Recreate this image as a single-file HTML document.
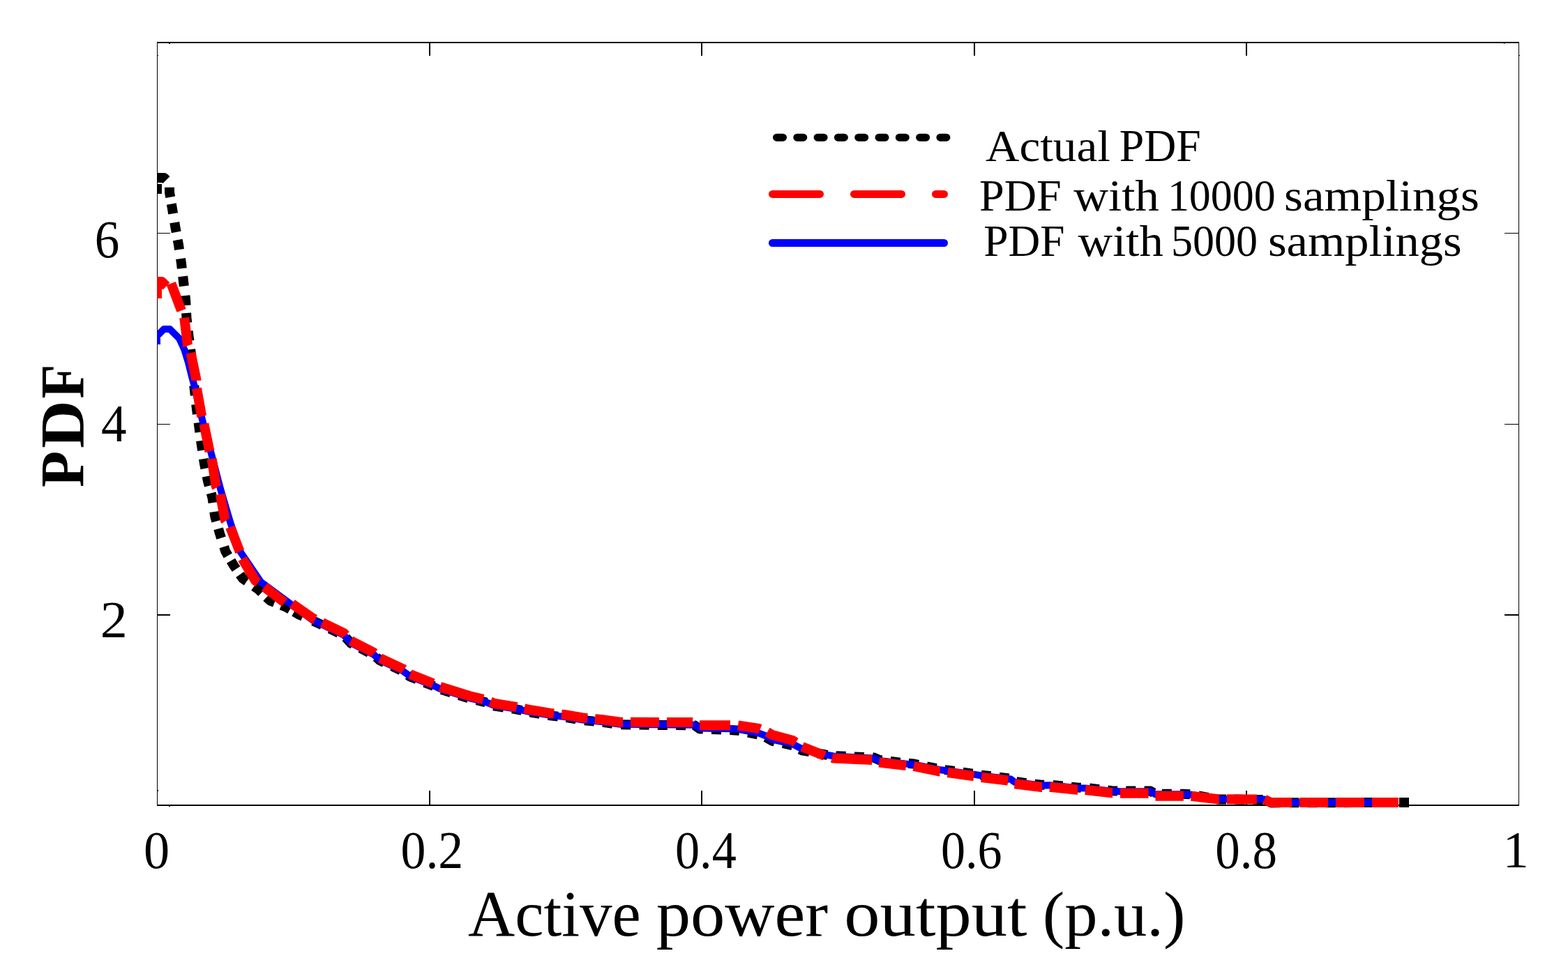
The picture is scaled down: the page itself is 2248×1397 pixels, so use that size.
<!DOCTYPE html>
<html><head><meta charset="utf-8"><title>PDF of active power output</title>
<style>html,body{margin:0;padding:0;background:#fff;overflow:hidden;} svg{display:block;}</style></head>
<body>
<svg width="2248" height="1397" viewBox="0 0 2248 1397" font-family="'Liberation Serif', serif" fill="#000">
<rect width="2248" height="1397" fill="#fff"/>
<defs><clipPath id="ax"><rect x="225" y="0" width="1953" height="1397"/></clipPath></defs>
<g shape-rendering="crispEdges">
<rect x="225" y="60" width="1953" height="2"/>
<rect x="225" y="1154" width="1953" height="2"/>
<rect x="225" y="60" width="1" height="1096"/>
<rect x="2177" y="60" width="1" height="1096"/>
<rect x="615" y="1134" width="2" height="20"/>
<rect x="615" y="62" width="2" height="18"/>
<rect x="1005" y="1134" width="2" height="20"/>
<rect x="1005" y="62" width="2" height="18"/>
<rect x="1396" y="1134" width="2" height="20"/>
<rect x="1396" y="62" width="2" height="18"/>
<rect x="1786" y="1134" width="2" height="20"/>
<rect x="1786" y="62" width="2" height="18"/>
<rect x="226" y="334" width="18" height="1"/>
<rect x="2157" y="334" width="20" height="1"/>
<rect x="226" y="608" width="18" height="1"/>
<rect x="2157" y="608" width="20" height="1"/>
<rect x="226" y="881" width="18" height="2"/>
<rect x="2157" y="881" width="20" height="2"/>
<rect x="242" y="62" width="2" height="1"/>
<rect x="2156" y="62" width="1" height="1"/>
<rect x="226" y="79" width="1" height="1"/>
<rect x="2178" y="79" width="1" height="1"/>
<rect x="242" y="1156" width="2" height="1"/>
<rect x="226" y="1133" width="1" height="2"/>
</g>
<g clip-path="url(#ax)" fill="none" stroke-linejoin="round">
<path d="M225.0,278.0 L225.0,264.0 M225.0,262.0 L225.0,255.0 L235.4,255.0 L238.5,258.1 M243.0,268.8 L243.0,275.8 L244.2,282.7 M245.8,292.5 L247.0,299.4 L248.1,306.3 M250.3,319.1 L251.4,326.0 L252.7,332.9 M254.7,344.1 L256.0,351.0 L257.0,357.9 M259.0,371.1 L260.0,378.0 L260.8,385.0 M262.2,396.4 L263.0,403.4 L263.8,410.4 M265.4,424.0 L266.2,431.0 L266.6,438.0 M267.1,449.0 L267.5,456.0 L268.3,463.0 M269.7,475.0 L270.5,482.0 L271.4,488.9 M273.1,501.1 L274.0,508.0 L274.7,515.0 M275.8,527.0 L276.5,534.0 L277.2,541.0 M278.3,553.0 L279.0,560.0 L279.8,567.0 M281.2,580.0 L282.0,587.0 L282.9,593.9 M284.6,606.1 L285.5,613.0 L286.4,619.9 M288.1,632.1 L289.0,639.0 L290.1,645.9 M291.9,658.1 L293.0,665.0 L294.4,671.9 M296.6,683.1 L298.0,690.0 L299.8,696.8 M302.7,707.2 L304.5,714.0 L305.5,720.9 M307.3,734.1 L308.3,741.0 L310.2,747.7 M313.1,758.3 L315.0,765.0 L317.1,771.7 M321.2,784.1 L323.3,790.8 L326.8,796.9 M331.1,804.2 L334.6,810.3 L338.6,816.1 M344.0,824.0 L348.0,829.8 L353.8,833.8 M364.2,841.0 L370.0,845.0 L375.1,849.8 M382.1,856.6 L387.2,861.4 L393.7,864.0 M403.3,867.9 L409.8,870.5 L415.8,874.0 M421.8,877.5 L427.8,881.0 L434.2,883.9 M2006.0,1151.0 L2020.0,1151.0 M1979.7,1151.1 L1993.7,1151.0 M1953.4,1151.1 L1967.4,1151.1 M1927.1,1151.2 L1941.1,1151.1 M1900.8,1151.2 L1914.8,1151.2 M1874.5,1151.3 L1888.5,1151.2 M1848.2,1151.3 L1862.2,1151.3 M1821.9,1151.3 L1822.0,1151.4 L1835.9,1151.3 M1796.6,1146.9 L1800.0,1146.9 L1810.6,1146.9 M1770.3,1146.6 L1784.3,1146.8 M1744.1,1146.1 L1746.0,1146.4 L1758.0,1146.5 M1718.2,1141.3 L1732.0,1143.8 M1692.1,1138.8 L1695.7,1138.8 L1706.1,1139.3 M1665.8,1138.8 L1679.8,1138.8 M1640.6,1134.6 L1649.4,1134.6 L1653.9,1137.2 M1614.3,1134.6 L1628.3,1134.6 M1588.0,1133.5 L1594.0,1134.2 L1602.0,1134.5 M1561.9,1130.5 L1575.8,1132.1 M1535.7,1128.7 L1544.0,1129.5 L1549.7,1129.7 M1509.5,1126.0 L1523.5,1127.4 M1483.3,1124.6 L1493.0,1125.8 L1497.3,1125.7 M1457.2,1121.3 L1471.1,1123.1 M1432.5,1114.7 L1446.4,1116.4 M1406.4,1111.6 L1407.0,1111.7 L1420.3,1113.3 M1380.4,1107.7 L1394.3,1109.6 M1354.4,1104.1 L1358.6,1104.6 L1368.2,1106.0 M1328.5,1099.4 L1342.2,1102.2 M1302.6,1095.0 L1310.0,1095.6 L1316.5,1096.9 M1276.5,1091.9 L1290.4,1093.6 M1251.1,1086.4 L1252.6,1086.5 L1260.4,1090.0 L1264.3,1090.5 M1224.8,1085.4 L1238.8,1085.9 M1198.5,1084.2 L1212.5,1084.8 M1172.5,1080.5 L1183.5,1082.5 L1186.3,1082.9 M1147.0,1074.7 L1150.0,1076.3 L1160.4,1078.2 M1122.4,1066.0 L1136.0,1069.1 M1097.8,1057.4 L1098.0,1057.5 L1107.0,1062.6 L1110.4,1063.3 M1072.5,1050.6 L1086.3,1053.3 M1046.5,1047.1 L1058.0,1047.8 L1060.4,1048.2 M1020.2,1046.1 L1034.2,1046.6 M995.5,1040.4 L996.0,1040.4 L1003.0,1045.4 L1007.9,1045.6 M969.2,1040.1 L983.2,1040.3 M942.9,1039.9 L956.9,1040.0 M916.6,1039.6 L930.6,1039.7 M890.3,1039.3 L904.3,1039.5 M864.3,1035.8 L878.2,1037.8 M838.1,1033.2 L852.1,1034.6 M812.2,1029.0 L826.0,1031.4 M786.1,1025.9 L789.0,1026.4 L800.0,1027.6 M760.1,1021.5 L762.3,1022.0 L773.9,1023.9 M734.3,1016.4 L740.0,1017.3 L748.1,1019.0 M708.4,1012.3 L709.0,1012.5 L722.2,1014.5 M683.4,1004.2 L695.6,1007.1 L697.0,1007.7 M658.1,997.0 L671.5,1001.2 M633.0,989.1 L646.4,993.3 M608.9,978.9 L621.9,984.1 M584.9,968.3 L588.0,970.5 L597.5,974.3 M562.1,955.5 L574.7,961.4 M539.4,942.5 L545.0,947.5 L550.9,950.3 M516.7,929.5 L529.1,936.0 M495.7,914.4 L503.0,922.5 L505.8,923.9 M472.9,901.8 L485.5,907.9 M449.1,890.6 L461.8,896.4" stroke="#000" stroke-width="14"/>
<path d="M225.0,494.0 L225.0,482.0 L235.0,472.0 L243.5,472.0 L257.0,485.5 L261.0,494.0 L264.5,502.0 L270.0,520.0 L275.0,540.0 L278.0,551.0 L290.0,602.0 L303.0,651.0 L316.0,701.0 L330.0,748.6 L345.0,792.0 L373.7,834.4 L414.3,864.4 L448.9,890.0 L462.0,896.0 L493.0,911.0 L503.0,922.0 L536.0,939.0 L545.0,947.0 L577.0,962.0 L588.0,970.0 L623.0,984.0 L631.0,988.0 L673.4,1001.3 L695.6,1006.6 L709.0,1012.0 L740.0,1016.8 L762.3,1021.5 L789.0,1025.9 L809.0,1028.0 L835.6,1032.5 L862.0,1035.0 L889.0,1038.8 L996.0,1039.8 L1003.0,1044.4 L1046.0,1045.2 L1058.0,1045.8 L1088.0,1051.6 L1098.0,1055.5 L1107.0,1060.6 L1136.5,1067.2 L1150.0,1074.3 L1183.5,1082.4 L1195.0,1084.5 L1222.7,1086.1 L1252.6,1087.5 L1260.4,1091.0 L1301.7,1095.9 L1310.0,1096.5 L1346.5,1104.0 L1358.6,1105.5 L1397.8,1110.9 L1407.0,1112.5 L1449.0,1117.5 L1454.7,1121.8 L1493.0,1126.5 L1505.0,1126.2 L1544.0,1130.2 L1556.0,1130.5 L1594.0,1134.8 L1606.0,1135.2 L1649.4,1135.2 L1656.5,1139.3 L1695.7,1139.3 L1707.8,1139.7 L1746.0,1146.0 L1800.0,1146.5 L1812.8,1146.5 L1822.0,1151.0 L2005.0,1151.0" stroke="#0000ff" stroke-width="10"/>
<path d="M225.0,428.0 L225.0,404.0 L232.0,404.0 L238.5,410.5 M245.3,406.6 L259.7,444.6 L260.0,445.4 M264.2,455.6 L269.0,494.7 L269.4,495.8 M273.5,506.0 L281.3,544.0 L281.4,546.0 M282.0,557.0 L289.0,596.0 L289.4,597.4 M292.4,608.0 L300.2,646.0 L300.6,647.4 M303.6,658.0 L309.6,697.0 L310.8,699.2 M315.8,709.0 L322.6,745.6 L323.6,747.0 M330.0,756.0 L343.6,790.8 L343.7,791.0 M347.4,801.3 L366.2,832.9 L370.0,835.6 M379.0,841.9 L408.0,864.2 M418.8,866.0 L448.9,887.0 L452.0,888.4 M462.0,893.0 L493.0,908.0 L495.6,910.9 M503.0,919.0 L536.0,936.0 L536.8,936.7 M545.0,944.0 L577.0,959.0 L579.1,960.5 M588.0,967.0 L621.1,980.2 M631.0,985.0 L673.4,998.3 L692.8,1002.9 M703.1,1006.6 L709.0,1009.0 L740.0,1013.8 L740.9,1014.0 M751.6,1016.3 L762.3,1018.5 L789.0,1022.9 L794.1,1023.4 M805.0,1024.6 L809.0,1025.0 L835.6,1029.5 L842.1,1030.1 M853.0,1031.2 L862.0,1032.0 L889.0,1035.8 L893.0,1035.8 M904.0,1035.8 L945.0,1035.9 M956.0,1035.9 L993.2,1036.0 M1003.0,1040.3 L1046.0,1040.3 L1047.0,1040.3 M1058.0,1040.5 L1088.0,1045.0 L1090.0,1045.7 M1100.1,1049.8 L1107.0,1054.0 L1136.5,1062.0 L1140.8,1064.9 M1150.0,1071.0 L1182.2,1084.1 M1192.8,1086.9 L1195.0,1087.5 L1222.7,1088.8 L1250.2,1089.9 M1260.4,1093.5 L1299.0,1098.1 M1310.0,1099.0 L1346.5,1106.5 L1347.7,1106.6 M1358.6,1108.0 L1396.2,1113.2 M1407.0,1115.0 L1445.2,1119.5 M1454.7,1124.3 L1493.0,1129.0 L1494.0,1129.0 M1505.0,1128.7 L1544.0,1132.7 L1545.0,1132.7 M1556.0,1133.0 L1594.0,1137.3 L1595.0,1137.3 M1606.0,1137.7 L1646.6,1137.7 M1656.5,1141.8 L1695.7,1141.8 L1696.8,1141.8 M1707.8,1141.8 L1746.0,1146.2 L1748.0,1146.2 M1759.0,1146.3 L1800.0,1146.5 L1801.8,1146.5 M1812.8,1146.5 L1822.0,1151.0 L1852.0,1151.0 M1863.0,1151.0 L1904.0,1151.0 M1915.0,1151.0 L1956.0,1151.0 M1967.0,1151.0 L2005.0,1151.0" stroke="#ff0000" stroke-width="14"/>
</g>
<g fill="none" stroke-linecap="round">
<path d="M1113.5,197.2 H1357" stroke="#000" stroke-width="11" stroke-dasharray="9 20.3"/>
<path d="M1107.5,278.4 H1353.5" stroke="#ff0000" stroke-width="11" stroke-dasharray="68 49"/>
<path d="M1107.5,348.5 H1353.5" stroke="#0000ff" stroke-width="11"/>
</g>
<text transform="translate(205.93,1244.80) scale(0.9906,1.0143)" font-size="75">0</text>
<text transform="translate(574.53,1245.00) scale(0.9575,1.0204)" font-size="75">0.2</text>
<text transform="translate(967.99,1244.90) scale(0.9367,1.0184)" font-size="75">0.4</text>
<text transform="translate(1349.00,1245.00) scale(0.9341,1.0204)" font-size="75">0.6</text>
<text transform="translate(1742.36,1245.00) scale(0.9466,1.0204)" font-size="75">0.8</text>
<text transform="translate(2154.71,1244.00) scale(0.9846,1.0000)" font-size="75">1</text>
<text transform="translate(143.78,913.80) scale(1.0400,0.9980)" font-size="75">2</text>
<text transform="translate(145.03,632.80) scale(0.9743,1.0020)" font-size="75">4</text>
<text transform="translate(135.86,369.00) scale(0.9469,1.0204)" font-size="75">6</text>
<text transform="translate(1412.95,231.00) scale(1.0488,0.9773)" font-size="64">Actual</text>
<text transform="translate(1604.71,231.00) scale(0.9956,1.0119)" font-size="64">PDF</text>
<text transform="translate(1404.00,302.10) scale(1.0018,1.0024)" font-size="64">PDF</text>
<text transform="translate(1539.20,302.10) scale(1.0779,1.0023)" font-size="64">with</text>
<text transform="translate(1673.90,302.10) scale(0.9671,1.0024)" font-size="64">10000</text>
<text transform="translate(1841.07,302.10) scale(1.0776,1.0023)" font-size="64">samplings</text>
<text transform="translate(1410.22,366.80) scale(0.9894,0.9976)" font-size="64">PDF</text>
<text transform="translate(1545.60,366.80) scale(1.0735,0.9955)" font-size="64">with</text>
<text transform="translate(1679.02,366.80) scale(0.9689,0.9976)" font-size="64">5000</text>
<text transform="translate(1817.89,366.80) scale(1.0705,0.9955)" font-size="64">samplings</text>
<text transform="translate(671.00,1342.00) scale(1.0000,1.0033)" font-size="93">Active</text>
<text transform="translate(940.68,1342.00) scale(1.0604,1.0000)" font-size="93">power</text>
<text transform="translate(1210.29,1342.00) scale(1.1034,1.0000)" font-size="93">output</text>
<text transform="translate(1494.63,1342.00) scale(1.0171,0.9688)" font-size="93">(p.u.)</text>
<text transform="translate(119.00,698.88) rotate(-90) scale(0.9392,0.9833)" font-size="91" font-weight="bold">P</text>
<text transform="translate(119.00,642.89) rotate(-90) scale(1.0441,0.9833)" font-size="91" font-weight="bold">D</text>
<text transform="translate(119.00,571.56) rotate(-90) scale(0.8776,0.9833)" font-size="91" font-weight="bold">F</text>
</svg>
</body></html>
